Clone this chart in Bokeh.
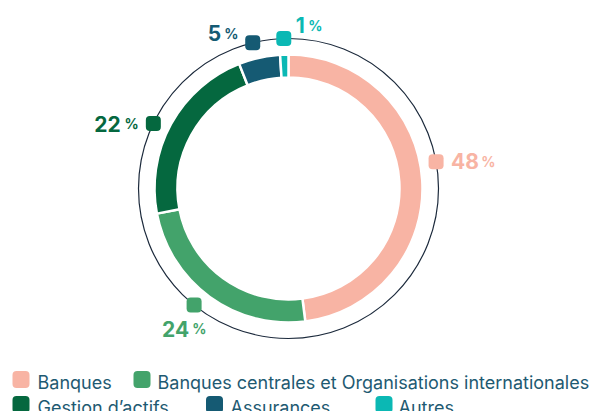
import math
from bokeh.plotting import figure
from bokeh.models import Range1d, ColumnDataSource
from bokeh.core.properties import value
from bokeh.embed import file_html
from bokeh.resources import INLINE

# ---- data ----
categories = ["Banques", "Banques centrales et Organisations internationales",
              "Gestion d\u2019actifs", "Assurances", "Autres"]
shares = [48, 24, 22, 5, 1]
colors = ["#f8b4a4", "#43a36b", "#05683f", "#155a73", "#0bb8b4"]

# ---- layout (page pixel coords) ----
W, H = 590, 411
CX, CY = 288, 188          # donut centre on the page
R_OUT, R_IN, R_RING = 134, 111, 150
label_shift_deg = [6.7, -3.0, 3.1, 1.2, 0.0]
label_dx = [15, -32, -59, -45, 12]
label_dy = [0, 24, 1, -9, -13]

def py(y_page):
    return H - y_page

p = figure(width=W, height=H, output_backend="svg", toolbar_location=None,
           x_range=Range1d(0, W), y_range=Range1d(0, H),
           min_border=0, outline_line_color=None)
p.axis.visible = False
p.grid.visible = False
p.background_fill_color = "white"
p.border_fill_color = "white"

total = float(sum(shares))
starts, ends, mids = [], [], []
cum = 0.0
for s in shares:
    a0 = math.pi / 2 - 2 * math.pi * cum / total
    cum += s
    a1 = math.pi / 2 - 2 * math.pi * cum / total
    starts.append(a0)
    ends.append(a1)
    mids.append((a0 + a1) / 2)

src = ColumnDataSource(dict(start=starts, end=ends, color=colors))
p.annular_wedge(x=CX, y=py(CY), inner_radius=R_IN, outer_radius=R_OUT,
                start_angle="start", end_angle="end", direction="clock",
                fill_color="color", line_color="white", line_width=2.5,
                source=src)

# thin outer circle
p.circle(x=[CX], y=[py(CY)], radius=R_RING, fill_color=None,
         line_color="#1c2a3c", line_width=1.2)

# markers and labels
mx, my, nx, ny, pxs = [], [], [], [], []
for i, s in enumerate(shares):
    ang = mids[i] + math.radians(label_shift_deg[i])
    x = CX + R_RING * math.cos(ang)
    y = CY - R_RING * math.sin(ang)
    mx.append(x)
    my.append(py(y))
    tx = x + label_dx[i]
    ty = y + label_dy[i]
    nx.append(tx)
    ny.append(py(ty - 0.5))
    txt = str(s)
    wdt = sum(9.5 if c == "1" else 13.6 for c in txt)
    pxs.append(tx + wdt + 3)

p.rect(x=mx, y=my, width=15, height=15, width_units="screen", height_units="screen",
       fill_color=colors, line_color=None, border_radius=4)

p.text(x=nx, y=ny, text=[str(s) for s in shares], text_color=colors,
       text_font=value("Inter"), text_font_style="bold", text_font_size="21px",
       text_align="left", text_baseline="alphabetic")
p.text(x=pxs, y=ny, text=["%"] * len(shares), text_color=colors,
       text_font=value("Inter"), text_font_style="bold", text_font_size="14px",
       text_align="left", text_baseline="alphabetic")

# legend (flow layout)
leg_sq_x = [20.5, 141.5, 20.5, 214, 383.5]
leg_tx_x = [37, 157, 37, 230, 398]
leg_row_y = [379, 379, 404, 404, 404]
p.rect(x=leg_sq_x, y=[py(v) for v in leg_row_y], width=17, height=17,
       width_units="screen", height_units="screen",
       fill_color=colors, line_color=None, border_radius=4)
p.text(x=leg_tx_x, y=[py(v + 2.5) for v in leg_row_y], text=categories,
       text_color="#1e5a72", text_font=value("Inter"), text_font_size="18px",
       text_align="left", text_baseline="alphabetic")

open("out.html", "w").write(file_html(p, INLINE))
